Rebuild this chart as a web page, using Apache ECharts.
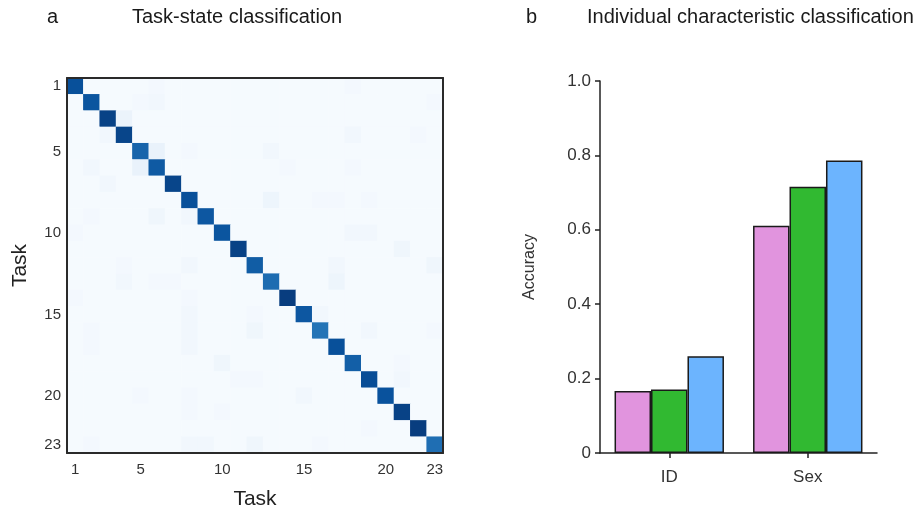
<!DOCTYPE html>
<html>
<head>
<meta charset="utf-8">
<script src="https://cdn.jsdelivr.net/npm/echarts@6/dist/echarts.min.js"></script>
<style>html,body{margin:0;padding:0;background:#fff}#c{width:919px;height:510px}</style>
</head>
<body>
<div id="c"></div>
<script>
// ---- Panel a: task-state confusion matrix (values in %, rows = true task, cols = predicted) ----
const taskCats = ['1','2','3','4','5','6','7','8','9','10','11','12','13','14','15','16','17','18','19','20','21','22','23'];
const taskTickLabels = ['1','5','10','15','20','23'];
const confusion = [
  [88,1,1,1,1,2,1,1,1,1,1,1,1,1,1,1,1,2,1,1,1,1,1],
  [1,86,1,1,2,3,1,1,1,1,1,1,1,1,1,1,1,1,1,1,1,1,2],
  [1,1,93,6,1,1,1,1,1,1,1,1,1,1,1,1,1,1,1,1,1,1,1],
  [1,1,3,92,1,1,1,1,1,1,1,1,1,1,1,1,1,3,1,1,1,2,1],
  [1,1,1,1,80,7,1,2,1,1,1,1,3,1,1,1,1,1,1,1,1,1,1],
  [1,3,1,1,7,84,1,1,1,1,1,1,1,2,1,1,1,2,1,1,1,1,1],
  [1,1,3,1,1,1,92,1,1,1,1,1,1,1,1,1,1,1,1,1,1,1,1],
  [1,1,1,1,1,1,1,88,1,1,1,1,5,1,1,2,2,1,2,1,1,1,1],
  [1,2,1,1,1,4,1,3,85,1,1,1,1,1,1,1,1,1,1,1,1,1,1],
  [2,1,1,1,1,1,1,1,1,86,1,1,1,1,1,1,1,3,3,1,1,1,1],
  [1,1,1,1,1,1,1,1,1,1,93,1,1,1,1,1,1,1,1,1,4,1,1],
  [1,1,1,2,1,1,1,3,1,1,1,83,1,1,1,1,3,1,1,1,1,1,4],
  [1,1,1,3,1,2,2,1,1,1,1,1,77,1,1,1,5,1,1,1,1,1,1],
  [2,1,1,1,1,1,1,2,1,1,1,1,1,95,1,1,1,1,1,1,1,1,1],
  [1,1,1,1,1,1,1,3,1,1,1,2,1,1,85,3,1,1,1,1,1,1,1],
  [1,2,1,1,1,1,1,3,1,1,1,4,1,1,1,74,1,1,3,1,1,1,2],
  [1,2,1,1,1,1,1,3,1,1,1,1,1,1,1,1,88,1,1,1,1,1,1],
  [1,1,1,1,1,1,1,1,1,4,1,1,1,1,1,1,1,82,1,1,2,1,1],
  [1,1,1,1,1,1,1,1,1,1,2,2,1,1,1,1,1,1,89,1,3,1,1],
  [1,1,1,1,2,1,1,2,1,1,1,1,1,1,3,1,1,1,1,87,1,1,1],
  [1,1,1,1,1,1,1,2,1,2,1,1,1,1,1,1,1,1,1,1,93,1,1],
  [1,1,1,1,1,1,1,1,1,1,1,1,1,1,1,1,1,1,2,1,1,95,1],
  [1,2,1,1,1,1,1,3,3,1,1,4,1,1,1,2,1,1,1,1,1,1,76]
];

// ---- Panel b: individual characteristic classification ----
const charCats = ['ID', 'Sex'];
const accSeriesA = [0.167, 0.611];
const accSeriesB = [0.171, 0.716];
const accSeriesC = [0.260, 0.786];
const accTickLabels = ['0', '0.2', '0.4', '0.6', '0.8', '1.0'];

const heatData = [];
confusion.forEach((row, r) => row.forEach((v, c) => heatData.push([c, r, v])));
const tickIdx = taskTickLabels.map(t => taskCats.indexOf(t));

const FONT = "'Liberation Sans', Arial, sans-serif";
const AX = '#2a2a2a';

const chart = echarts.init(document.getElementById('c'), null, {renderer: 'canvas'});
chart.setOption({
  animation: false,
  backgroundColor: '#fff',
  textStyle: {fontFamily: FONT},
  title: [
    {text: 'a', left: 42, top: 2, textStyle: {fontFamily: FONT, fontWeight: 'normal', fontSize: 20, color: '#1a1a1a'}},
    {text: 'Task-state classification', left: 127, top: 2, textStyle: {fontFamily: FONT, fontWeight: 'normal', fontSize: 20, color: '#1a1a1a'}},
    {text: 'b', left: 521, top: 2, textStyle: {fontFamily: FONT, fontWeight: 'normal', fontSize: 20, color: '#1a1a1a'}},
    {text: 'Individual characteristic classification', left: 582, top: 2, textStyle: {fontFamily: FONT, fontWeight: 'normal', fontSize: 20, color: '#1a1a1a'}}
  ],
  grid: [
    {left: 67, top: 78, width: 376, height: 375, containLabel: false, outerBoundsMode: 'none'},
    {left: 600, top: 81, right: 42, bottom: 57, containLabel: false, outerBoundsMode: 'none'}
  ],
  visualMap: {
    show: false, min: 0, max: 100, seriesIndex: 0, dimension: 2,
    inRange: {color: ['#f7fbff','#deebf7','#c6dbef','#9ecae1','#6baed6','#4292c6','#2171b5','#08519c','#08306b']}
  },
  xAxis: [
    {
      type: 'category', gridIndex: 0, data: taskCats, position: 'bottom', z: 10,
      axisLine: {show: true, lineStyle: {color: AX, width: 2}},
      axisTick: {show: false}, splitLine: {show: false},
      axisLabel: {interval: (i) => tickIdx.includes(i), fontSize: 15, color: '#333', margin: 9, fontFamily: FONT},
      name: 'Task', nameLocation: 'middle', nameGap: 36,
      nameTextStyle: {fontSize: 21, color: '#222', fontFamily: FONT}
    },
    {
      type: 'category', gridIndex: 0, data: taskCats, position: 'top', z: 10,
      axisLine: {show: true, lineStyle: {color: AX, width: 2}},
      axisTick: {show: false}, axisLabel: {show: false}, splitLine: {show: false}
    },
    {
      type: 'category', gridIndex: 1, data: charCats,
      axisLine: {show: true, lineStyle: {color: '#222', width: 1.5}},
      axisTick: {show: true, alignWithLabel: true, length: 5, lineStyle: {color: '#222', width: 1.5}},
      axisLabel: {fontSize: 17, color: '#333', margin: 16, fontFamily: FONT},
      splitLine: {show: false}
    }
  ],
  yAxis: [
    {
      type: 'category', gridIndex: 0, data: taskCats, inverse: true, z: 10,
      axisLine: {show: true, lineStyle: {color: AX, width: 2}},
      axisTick: {show: false}, splitLine: {show: false},
      axisLabel: {interval: (i) => tickIdx.includes(i), fontSize: 15, color: '#333', margin: 6, fontFamily: FONT},
      name: 'Task', nameLocation: 'middle', nameGap: 36, nameRotate: 90,
      nameTextStyle: {fontSize: 21, color: '#222', fontFamily: FONT}
    },
    {
      type: 'category', gridIndex: 0, data: taskCats, inverse: true, position: 'right', z: 10,
      axisLine: {show: true, lineStyle: {color: AX, width: 2}},
      axisTick: {show: false}, axisLabel: {show: false}, splitLine: {show: false}
    },
    {
      type: 'value', gridIndex: 1, min: 0, max: 1, interval: 0.2,
      axisLine: {show: true, lineStyle: {color: '#222', width: 1.5}},
      axisTick: {show: true, length: 5, lineStyle: {color: '#222', width: 1.5}},
      splitLine: {show: false},
      axisLabel: {fontSize: 17, color: '#333', margin: 9, fontFamily: FONT,
        formatter: (v) => accTickLabels[Math.round(v / 0.2)]},
      name: 'Accuracy', nameLocation: 'middle', nameGap: 62, nameRotate: 90,
      nameTextStyle: {fontSize: 16, color: '#333', fontFamily: FONT}
    }
  ],
  series: [
    {
      type: 'heatmap', xAxisIndex: 0, yAxisIndex: 0, data: heatData,
      itemStyle: {borderWidth: 0}, emphasis: {disabled: true}
    },
    {type: 'bar', xAxisIndex: 2, yAxisIndex: 2, data: accSeriesA, barGap: '0%', barCategoryGap: '21%',
     itemStyle: {color: '#e194de', borderColor: '#1a1a1a', borderWidth: 1.5}},
    {type: 'bar', xAxisIndex: 2, yAxisIndex: 2, data: accSeriesB, barGap: '0%', barCategoryGap: '21%',
     itemStyle: {color: '#31b931', borderColor: '#1a1a1a', borderWidth: 1.5}},
    {type: 'bar', xAxisIndex: 2, yAxisIndex: 2, data: accSeriesC, barGap: '0%', barCategoryGap: '21%',
     itemStyle: {color: '#6cb4fe', borderColor: '#1a1a1a', borderWidth: 1.5}}
  ]
});
</script>
</body>
</html>
